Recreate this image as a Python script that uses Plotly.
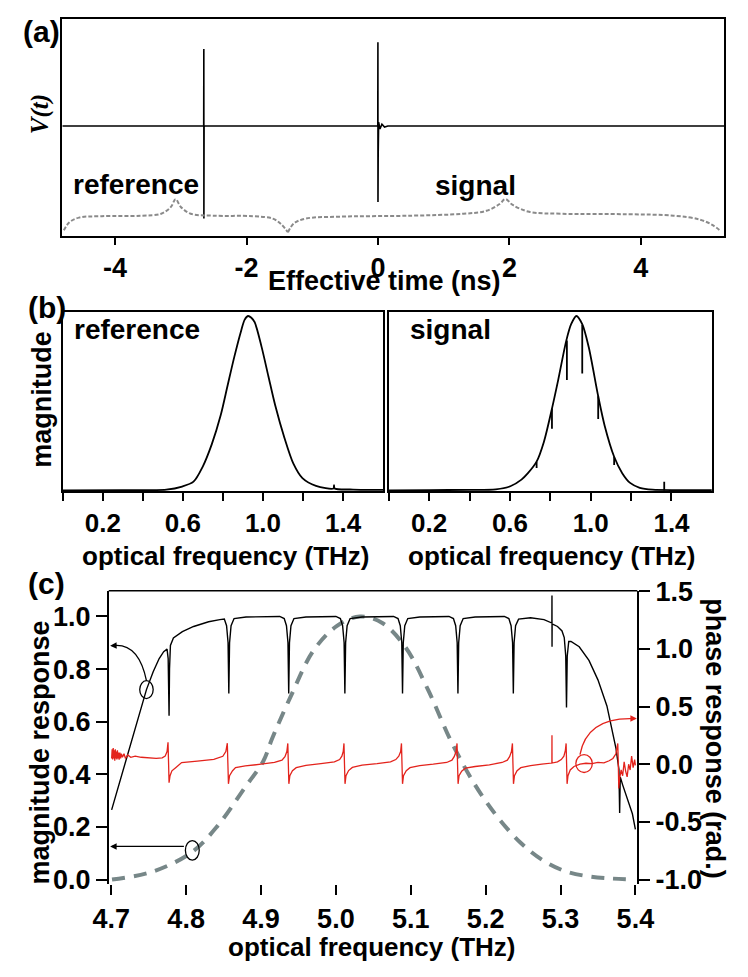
import plotly.graph_objects as go

# ---------------- data ----------------
# (a) time-domain trace
time_ns = [-4.80, -2.652, -2.650, -2.649, -2.648, -2.646, -0.003, -0.001, 0.000, 0.001,
           0.003, 0.010, 0.030, 0.060, 0.100, 0.150, 5.27]
voltage = [0.0, 0.0, 0.79, -0.95, 0.25, 0.0, 0.0, 0.86, -0.78, 0.50,
           -0.30, 0.04, -0.03, 0.02, -0.01, 0.0, 0.0]
# (a) brace outlines (dotted)
brace_ref_t = [-4.78, -4.70, -4.55, -4.20, -3.60, -3.30, -3.15, -3.08, -3.00, -2.85, -2.50, -1.90, -1.60, -1.47, -1.37]
brace_ref_v = [-1.07, -0.99, -0.94, -0.925, -0.92, -0.90, -0.83, -0.75, -0.83, -0.90, -0.92, -0.925, -0.95, -1.01, -1.09]
brace_sig_t = [-1.37, -1.28, -1.10, -0.60, 0.50, 1.30, 1.65, 1.85, 1.94, 2.05, 2.30, 2.80, 3.80, 4.50, 4.90, 5.10, 5.22]
brace_sig_v = [-1.09, -1.00, -0.95, -0.93, -0.92, -0.90, -0.87, -0.80, -0.75, -0.81, -0.88, -0.90, -0.905, -0.92, -0.96, -1.02, -1.08]

# (b) spectra
ref_freq = [0.00, 0.30, 0.45, 0.517, 0.596, 0.653, 0.698, 0.744, 0.789, 0.823, 0.857, 0.891,
            0.908, 0.925, 0.942, 0.959, 0.993, 1.027, 1.061, 1.107, 1.152, 1.197, 1.265,
            1.352, 1.355, 1.358, 1.45, 1.60]
ref_mag = [0.0, 0.001, 0.002, 0.004, 0.022, 0.05, 0.134, 0.264, 0.432, 0.60, 0.767, 0.916,
           0.978, 1.0, 0.99, 0.963, 0.823, 0.655, 0.488, 0.302, 0.153, 0.07, 0.026,
           0.011, 0.03, 0.011, 0.005, 0.003]
sig_freq = [0.00, 0.20, 0.40, 0.53, 0.602, 0.657, 0.689, 0.732, 0.768, 0.808, 0.839, 0.879,
            0.903, 0.929, 0.958, 0.990, 1.037, 1.069, 1.116, 1.156, 1.195, 1.243, 1.306, 1.45, 1.60]
sig_mag = [0.0, 0.002, 0.003, 0.006, 0.024, 0.062, 0.099, 0.165, 0.278, 0.469, 0.634, 0.859,
           0.953, 1.0, 0.953, 0.822, 0.54, 0.371, 0.193, 0.099, 0.043, 0.015, 0.004, 0.002, 0.001]
sig_dip_freq = [0.732, 0.808, 0.882, 0.958, 1.037, 1.116, 1.364]
sig_dip_top = [0.165, 0.469, 0.860, 0.950, 0.540, 0.193, 0.0]
sig_dip_bottom = [0.128, 0.353, 0.633, 0.670, 0.410, 0.146, 0.05]

# (c) magnitude response
mag_freq = [4.7005, 4.721, 4.747, 4.756, 4.764, 4.770, 4.7745, 4.7760, 4.7768, 4.7772, 4.7778, 4.779,
            4.783, 4.795, 4.810, 4.830, 4.845, 4.851, 4.854, 4.856, 4.857, 4.858, 4.860, 4.864,
            4.880, 4.925, 4.931, 4.934, 4.936, 4.937, 4.938, 4.940, 4.944, 4.960,
            5.000, 5.006, 5.009, 5.011, 5.012, 5.013, 5.015, 5.019, 5.035,
            5.077, 5.083, 5.086, 5.088, 5.089, 5.090, 5.092, 5.096, 5.112,
            5.151, 5.157, 5.160, 5.162, 5.163, 5.164, 5.166, 5.170, 5.186,
            5.225, 5.231, 5.234, 5.236, 5.237, 5.238, 5.240, 5.244, 5.260, 5.278,
            5.2885, 5.2886, 5.2887, 5.2888, 5.296, 5.302, 5.305, 5.307, 5.308, 5.309, 5.311,
            5.314, 5.325, 5.338, 5.350, 5.362, 5.374, 5.378, 5.379, 5.3798, 5.383, 5.390, 5.396, 5.400]
mag_resp = [0.265, 0.463, 0.722, 0.790, 0.840, 0.866, 0.876, 0.84, 0.75, 0.623, 0.80, 0.89,
            0.918, 0.942, 0.962, 0.980, 0.988, 0.990, 0.965, 0.90, 0.707, 0.90, 0.965, 0.992,
            0.998, 1.0, 0.992, 0.965, 0.90, 0.707, 0.90, 0.965, 0.992, 0.998,
            1.0, 0.992, 0.965, 0.90, 0.707, 0.90, 0.965, 0.992, 0.998,
            1.0, 0.992, 0.965, 0.90, 0.707, 0.90, 0.965, 0.992, 0.998,
            1.0, 0.992, 0.965, 0.90, 0.707, 0.90, 0.965, 0.992, 0.998,
            1.0, 0.992, 0.965, 0.90, 0.707, 0.90, 0.965, 0.990, 0.995, 0.988,
            0.975, 1.08, 0.885, 0.972, 0.962, 0.945, 0.92, 0.85, 0.654, 0.85, 0.905,
            0.905, 0.885, 0.833, 0.759, 0.660, 0.500, 0.420, 0.253, 0.39, 0.360, 0.300, 0.250, 0.191]

# (c) phase response (rad.)
phase_freq = [4.7005, 4.7012, 4.7019, 4.7026, 4.7033, 4.7040, 4.7047, 4.7054, 4.7061, 4.7068,
              4.7075, 4.7082, 4.7089, 4.7096, 4.7105, 4.7115, 4.7125, 4.7135, 4.715, 4.717,
              4.719, 4.722, 4.726, 4.732, 4.740, 4.750, 4.760, 4.768, 4.772, 4.7745, 4.7758,
              4.7765, 4.7772, 4.7785, 4.781, 4.786, 4.794, 4.815, 4.837, 4.849, 4.853, 4.855,
              4.8558, 4.8565, 4.858, 4.862, 4.866, 4.879, 4.900, 4.918, 4.928, 4.932, 4.9345,
              4.9358, 4.9365, 4.9372, 4.9385, 4.942, 4.947, 4.960, 4.980, 4.998, 5.005, 5.008,
              5.0098, 5.0108, 5.0115, 5.0122, 5.0135, 5.017, 5.022, 5.035, 5.055, 5.073, 5.080,
              5.084, 5.0865, 5.0876, 5.0883, 5.089, 5.0903, 5.094, 5.099, 5.112, 5.130, 5.148,
              5.155, 5.158, 5.1605, 5.1618, 5.1625, 5.1632, 5.1645, 5.168, 5.173, 5.186, 5.205,
              5.222, 5.229, 5.232, 5.2345, 5.2358, 5.2365, 5.2372, 5.2385, 5.242, 5.247, 5.260,
              5.275, 5.2885, 5.2886, 5.2887, 5.296, 5.301, 5.3045, 5.3065, 5.3075, 5.3082, 5.3088,
              5.310, 5.313, 5.318, 5.326, 5.334, 5.342, 5.350, 5.358, 5.365, 5.370, 5.374, 5.3765,
              5.3772, 5.3778, 5.379, 5.381, 5.383, 5.385, 5.387, 5.389, 5.391, 5.393, 5.395,
              5.397, 5.399, 5.400]
phase_rad = [0.05, 0.13, 0.04, 0.14, 0.05, 0.12, 0.03, 0.13, 0.05, 0.11,
             0.04, 0.12, 0.05, 0.10, 0.04, 0.10, 0.05, 0.09, 0.06, 0.09,
             0.05, 0.08, 0.06, 0.07, 0.06, 0.055, 0.05, 0.055, 0.07, 0.11, 0.19,
             0.02, -0.16, -0.10, -0.057, -0.03, 0.014, 0.027, 0.041, 0.069, 0.11, 0.182,
             0.0, -0.17, -0.10, -0.057, -0.03, -0.015, 0.0, 0.015, 0.035, 0.065, 0.11,
             0.18, 0.0, -0.17, -0.10, -0.057, -0.03, -0.01, 0.005, 0.02, 0.04, 0.07,
             0.11, 0.18, 0.0, -0.17, -0.10, -0.055, -0.028, -0.008, 0.005, 0.02, 0.04,
             0.07, 0.11, 0.18, 0.0, -0.17, -0.10, -0.057, -0.03, -0.012, 0.0, 0.015,
             0.035, 0.065, 0.11, 0.18, 0.0, -0.17, -0.10, -0.06, -0.035, -0.02, -0.005,
             0.015, 0.035, 0.065, 0.11, 0.18, 0.0, -0.17, -0.10, -0.057, -0.03, -0.012,
             0.0, 0.01, 0.25, 0.01, 0.02, 0.04, 0.07, 0.12, 0.18, 0.0, -0.17,
             -0.10, -0.05, -0.02, 0.0, 0.008, 0.005, 0.015, 0.012, 0.03, 0.05, 0.09, 0.18,
             0.0, -0.21, -0.12, -0.05, -0.10, 0.02, -0.06, -0.11, 0.0, -0.05, 0.07,
             -0.03, 0.04, -0.01]

# (c) input spectrum (dashed, magnitude units)
spec_freq = [4.701, 4.756, 4.808, 4.842, 4.879, 4.903, 4.915, 4.940, 4.970, 5.001, 5.032, 5.062,
             5.093, 5.123, 5.154, 5.185, 5.215, 5.246, 5.276, 5.307, 5.338, 5.368, 5.399]
spec_mag = [0.0, 0.031, 0.105, 0.204, 0.352, 0.45, 0.537, 0.698, 0.87, 0.963, 1.0, 0.975,
            0.883, 0.722, 0.525, 0.364, 0.241, 0.142, 0.074, 0.031, 0.012, 0.004, 0.0]

time_ticks = [-4, -2, 0, 2, 4]
time_ticktext = ["-4", "-2", "0", "2", "4"]
b_tickvals = [0.0, 0.2, 0.4, 0.6, 0.8, 1.0, 1.2, 1.4]
b_ticktext = ["", "0.2", "", "0.6", "", "1.0", "", "1.4"]
c_xticks = [4.7, 4.8, 4.9, 5.0, 5.1, 5.2, 5.3, 5.4]
c_xticktext = ["4.7", "4.8", "4.9", "5.0", "5.1", "5.2", "5.3", "5.4"]
c_yticks = [0.0, 0.2, 0.4, 0.6, 0.8, 1.0]
c_yticktext = ["0.0", "0.2", "0.4", "0.6", "0.8", "1.0"]
c_y2ticks = [-1.0, -0.5, 0.0, 0.5, 1.0, 1.5]
c_y2ticktext = ["-1.0", "-0.5", "0.0", "0.5", "1.0", "1.5"]

# ---------------- figure ----------------
W, H = 748, 977
FONT = "Liberation Sans, Arial, sans-serif"
TICKF = dict(family=FONT, size=27, color="black", weight="bold")
TICKF_B = dict(family=FONT, size=26, color="black", weight="bold")
GRAY_DOT = "#8a8a8a"
DASH_GRAY = "#778788"
RED = "#e3231c"


def px(x):
    return x / W


def py(y):
    return 1 - y / H


fig = go.Figure()

# (a)
fig.add_trace(go.Scatter(x=time_ns, y=voltage, mode="lines", line=dict(color="black", width=1.6),
                         xaxis="x", yaxis="y", showlegend=False))
fig.add_trace(go.Scatter(x=brace_ref_t, y=brace_ref_v, mode="lines", line_shape="spline",
                         line=dict(color=GRAY_DOT, width=2, dash="4px,2px"), xaxis="x", yaxis="y",
                         showlegend=False))
fig.add_trace(go.Scatter(x=brace_sig_t, y=brace_sig_v, mode="lines", line_shape="spline",
                         line=dict(color=GRAY_DOT, width=2, dash="4px,2px"), xaxis="x", yaxis="y",
                         showlegend=False))

# (b)
fig.add_trace(go.Scatter(x=ref_freq, y=ref_mag, mode="lines", line_shape="spline",
                         line=dict(color="black", width=1.8, smoothing=0.8), xaxis="x2", yaxis="y2",
                         showlegend=False))
fig.add_trace(go.Scatter(x=sig_freq, y=sig_mag, mode="lines", line_shape="spline",
                         line=dict(color="black", width=1.8, smoothing=0.8), xaxis="x3", yaxis="y3",
                         showlegend=False))
dx, dy = [], []
for f, t, b in zip(sig_dip_freq, sig_dip_top, sig_dip_bottom):
    dx += [f, f, None]
    dy += [t, b, None]
fig.add_trace(go.Scatter(x=dx, y=dy, mode="lines", line=dict(color="black", width=1.8),
                         xaxis="x3", yaxis="y3", showlegend=False))

# (c)
fig.add_trace(go.Scatter(x=spec_freq, y=spec_mag, mode="lines", line_shape="spline",
                         line=dict(color=DASH_GRAY, width=4, dash="13px,9px"),
                         xaxis="x4", yaxis="y4", showlegend=False))
fig.add_trace(go.Scatter(x=mag_freq, y=mag_resp, mode="lines",
                         line=dict(color="black", width=1.4), xaxis="x4", yaxis="y4", showlegend=False))
fig.add_trace(go.Scatter(x=phase_freq, y=phase_rad, mode="lines",
                         line=dict(color=RED, width=1.3), xaxis="x4", yaxis="y5", showlegend=False))

frame = dict(showline=True, mirror=True, linecolor="black", linewidth=1.5, showgrid=False,
             zeroline=False)

fig.update_layout(
    width=W, height=H, margin=dict(l=0, r=0, t=0, b=0),
    paper_bgcolor="white", plot_bgcolor="white",
    xaxis=dict(domain=[px(48), px(741)], range=[-4.81, 5.27], anchor="y",
               tickvals=time_ticks, ticktext=time_ticktext, ticks="outside", ticklen=7, tickwidth=1.5,
               tickcolor="black", tickfont=TICKF, **frame),
    yaxis=dict(domain=[py(228), py(5)], range=[-1.13, 1.10], anchor="x",
               showticklabels=False, ticks="", **frame),
    xaxis2=dict(domain=[px(49), px(384)], range=[0, 1.6], anchor="y2",
                tickvals=b_tickvals, ticktext=b_ticktext, ticks="outside", ticklen=8, tickwidth=1.5,
                tickcolor="black", tickfont=TICKF_B, **frame),
    yaxis2=dict(domain=[py(490), py(306)], range=[-0.006, 1.022], anchor="x2",
                showticklabels=False, ticks="", **frame),
    xaxis3=dict(domain=[px(390), px(728)], range=[0, 1.6], anchor="y3",
                tickvals=b_tickvals, ticktext=b_ticktext, ticks="outside", ticklen=8, tickwidth=1.5,
                tickcolor="black", tickfont=TICKF_B, **frame),
    yaxis3=dict(domain=[py(490), py(306)], range=[-0.006, 1.022], anchor="x3",
                showticklabels=False, ticks="", **frame),
    xaxis4=dict(domain=[px(97), px(650)], range=[4.6966, 5.4026], anchor="y4",
                tickvals=c_xticks, ticktext=c_xticktext, ticks="outside", ticklen=10, tickwidth=1.5,
                tickcolor="black", tickfont=TICKF, showline=False, showgrid=False, zeroline=False),
    yaxis4=dict(domain=[py(893), py(592)], range=[-0.0174, 1.0974], anchor="x4",
                tickvals=c_yticks, ticktext=c_yticktext, ticks="outside", ticklen=11, tickwidth=1.5,
                tickcolor="black", tickfont=TICKF, showline=True, linecolor="black", linewidth=1.5,
                showgrid=False, zeroline=False),
    yaxis5=dict(range=[-1.0397, 1.5025], overlaying="y4", anchor="x4", side="right",
                tickvals=c_y2ticks, ticktext=c_y2ticktext, ticks="outside", ticklen=11, tickwidth=1.5,
                tickcolor="black", tickfont=TICKF, showline=True, linecolor="black", linewidth=1.5,
                showgrid=False, zeroline=False),
)

# frame top line of (c)
shapes = [dict(type="line", xref="x4 domain", yref="y4 domain", x0=0, x1=1, y0=1, y1=1,
               line=dict(color="black", width=1.5))]
# ellipses and curved arrows in (c)
shapes += [
    dict(type="circle", xref="x4", yref="y4", x0=4.738, x1=4.756, y0=0.688, y1=0.756,
         line=dict(color="black", width=1.3)),
    dict(type="circle", xref="x4", yref="y4", x0=4.799, x1=4.8175, y0=0.074, y1=0.148,
         line=dict(color="black", width=1.3)),
    dict(type="circle", xref="x4", yref="y4", x0=5.3205, x1=5.3425, y0=0.407, y1=0.475,
         line=dict(color=RED, width=1.3)),
    dict(type="path", xref="x4", yref="y4", path="M 4.747,0.756 Q 4.737,0.893 4.706,0.890",
         line=dict(color="black", width=1.3)),
    dict(type="path", xref="x4", yref="y4", path="M 5.326,0.475 Q 5.335,0.615 5.395,0.612",
         line=dict(color=RED, width=1.3)),
]
fig.update_layout(shapes=shapes)

ann = []


def text(s, x, y, size=27, angle=0, xanchor="center", font=FONT, color="black", weight="bold"):
    ann.append(dict(text=s, x=px(x), y=py(y), xref="paper", yref="paper", showarrow=False,
                    xanchor=xanchor, yanchor="middle", textangle=angle,
                    font=dict(family=font, size=size, color=color, weight=weight)))


text("(a)", 5, 18, size=30, xanchor="left")
text("(b)", 10, 301, size=30, xanchor="left")
text("(c)", 10, 584, size=30, xanchor="left")
text("<i>V(t)</i>", 26, 103, size=25, angle=-90, font="Liberation Serif, Times New Roman, serif")
text("reference", 126, 175, size=28)
text("signal", 481, 176, size=28)
text("Effective time (ns)", 386, 274, size=27)
text("magnitude", 27, 395, angle=-90)
text("reference", 127, 324, size=28)
text("signal", 455, 324, size=28)
text("optical frequency (THz)", 219, 556, size=26)
text("optical frequency (THz)", 560, 556, size=26)
text("magnitude response", 25, 758, angle=-90)
text("phase response (rad.)", 731, 744, angle=90)
text("optical frequency (THz)", 372, 958, size=26)

# arrowheads
ann.append(dict(x=4.6985, y=0.889, ax=4.709, ay=0.890, xref="x4", yref="y4", axref="x4", ayref="y4",
                showarrow=True, arrowhead=2, arrowsize=1, arrowwidth=1.3, arrowcolor="black", text=""))
ann.append(dict(x=4.6985, y=0.126, ax=4.799, ay=0.126, xref="x4", yref="y4", axref="x4", ayref="y4",
                showarrow=True, arrowhead=2, arrowsize=1, arrowwidth=1.3, arrowcolor="black", text=""))
ann.append(dict(x=5.4020, y=0.612, ax=5.392, ay=0.612, xref="x4", yref="y4", axref="x4", ayref="y4",
                showarrow=True, arrowhead=2, arrowsize=1, arrowwidth=1.3, arrowcolor=RED, text=""))
fig.update_layout(annotations=ann)

fig.write_html("out.html")
